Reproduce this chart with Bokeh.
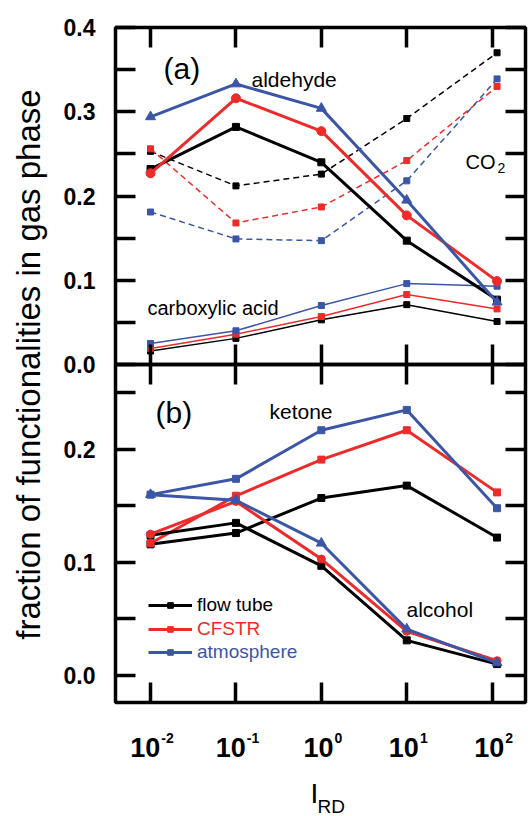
import math
from bokeh.plotting import figure
from bokeh.layouts import row, column
from bokeh.core.properties import value
from bokeh.models import (Range1d, FixedTicker, LinearAxis, LogAxis, Label,
                          Legend, LegendItem, PrintfTickFormatter)
from bokeh.embed import file_html
from bokeh.resources import INLINE

FONT = "Liberation Sans"
BLACK, RED, BLUE = "#000000", "#ee2b2b", "#3c56a6"

# ---------------- data ----------------
i_rd = [0.01, 0.1, 1.0, 10.0, 114.0]
x_ticks = [0.01, 0.1, 1, 10, 100]
x_exponents = ["-2", "-1", "0", "1", "2"]

# panel (a)
ald_ft = [0.232, 0.282, 0.240, 0.147, 0.077]
ald_cf = [0.227, 0.316, 0.277, 0.177, 0.099]
ald_at = [0.294, 0.333, 0.304, 0.195, 0.074]
co2_ft = [0.253, 0.212, 0.226, 0.292, 0.370]
co2_cf = [0.256, 0.168, 0.187, 0.242, 0.330]
co2_at = [0.181, 0.149, 0.147, 0.218, 0.339]
acid_ft = [0.016, 0.031, 0.053, 0.071, 0.051]
acid_cf = [0.019, 0.036, 0.057, 0.083, 0.066]
acid_at = [0.025, 0.040, 0.070, 0.096, 0.093]

# panel (b)
ket_ft = [0.116, 0.126, 0.157, 0.168, 0.122]
ket_cf = [0.117, 0.159, 0.191, 0.217, 0.162]
ket_at = [0.160, 0.174, 0.217, 0.235, 0.148]
alc_ft = [0.124, 0.135, 0.097, 0.031, 0.010]
alc_cf = [0.125, 0.154, 0.103, 0.039, 0.013]
alc_at = [0.160, 0.155, 0.117, 0.041, 0.011]

ya_ticks = [0.0, 0.1, 0.2, 0.3, 0.4]
ya_minor = [0.05, 0.15, 0.25, 0.35]
yb_ticks = [0.0, 0.1, 0.2]
yb_minor = [0.05, 0.15, 0.25]

legend_names = ["flow tube", "CFSTR", "atmosphere"]
legend_colors = [BLACK, RED, BLUE]

X_RANGE = Range1d(10 ** -2.41, 10 ** 2.39)


def style_axis(ax, labels):
    ax.axis_line_color = None
    ax.major_tick_in = 20
    ax.major_tick_out = 0
    ax.minor_tick_in = 20
    ax.minor_tick_out = 0
    ax.major_tick_line_width = 3.5
    ax.minor_tick_line_width = 3.5
    ax.major_tick_line_color = "black"
    ax.minor_tick_line_color = "black"
    if labels:
        ax.major_label_text_font = FONT
        ax.major_label_text_font_style = "bold"
        ax.major_label_text_font_size = "23px"
        ax.major_label_text_color = "black"
        ax.major_label_standoff = 20
    else:
        ax.major_label_text_font_size = "1px"
        ax.major_label_text_color = None
        ax.major_label_standoff = 0


def make_panel(yr, yt, ym, border_top, border_bottom, margin=None):
    kw = {}
    if margin is not None:
        kw["margin"] = margin
    p = figure(frame_width=410, frame_height=yr[2], x_axis_type="log",
               x_range=X_RANGE, y_range=Range1d(yr[0], yr[1]),
               min_border_left=60, min_border_right=3,
               min_border_top=border_top, min_border_bottom=border_bottom,
               toolbar_location=None, output_backend="svg", **kw)
    p.xgrid.visible = False
    p.ygrid.visible = False
    p.outline_line_color = "black"
    p.outline_line_width = 3.5
    p.background_fill_alpha = 0
    p.border_fill_alpha = 0
    p.xaxis[0].ticker = FixedTicker(ticks=x_ticks, minor_ticks=[])
    style_axis(p.xaxis[0], False)
    p.yaxis[0].ticker = FixedTicker(ticks=yt, minor_ticks=ym)
    p.yaxis[0].formatter = PrintfTickFormatter(format="%.1f")
    style_axis(p.yaxis[0], True)
    top = LogAxis(ticker=FixedTicker(ticks=x_ticks, minor_ticks=[]))
    style_axis(top, False)
    p.add_layout(top, "above")
    right = LinearAxis(ticker=FixedTicker(ticks=yt, minor_ticks=ym))
    style_axis(right, False)
    p.add_layout(right, "right")
    return p


def series(p, y, color, width, marker, size, dash="solid"):
    rl = p.line(i_rd, y, line_color=color, line_width=width, line_dash=dash)
    rs = p.scatter(i_rd, y, marker=marker, size=size, fill_color=color,
                   line_color=color)
    return rl, rs


def text(p, s, x, y, size, color="black", align="left", baseline="alphabetic",
         style="normal", angle=0.0):
    p.add_layout(Label(x=x, y=y, x_units="screen", y_units="screen", text=s,
                       text_font=FONT, text_font_size=size, text_color=color,
                       text_align=align, text_baseline=baseline,
                       text_font_style=style, angle=angle))


# ---------------- panel (a) ----------------
p1 = make_panel((0.0, 0.4, 337), ya_ticks, ya_minor, 27, 14)
for y, c in ((co2_ft, BLACK), (co2_cf, RED), (co2_at, BLUE)):
    series(p1, y, c, 1.5, "square", 6, dash="6 4")
for y, c in ((acid_ft, BLACK), (acid_cf, RED), (acid_at, BLUE)):
    series(p1, y, c, 1.5, "square", 6)
series(p1, ald_ft, BLACK, 3, "square", 7)
series(p1, ald_cf, RED, 3, "circle", 9)
series(p1, ald_at, BLUE, 3, "triangle", 10)

text(p1, "(a)", 48, 296, "30px", baseline="middle")
text(p1, "aldehyde", 136, 285, "21px")
text(p1, "CO", 350, 203, "20px")
text(p1, "2", 382, 197, "14px")
text(p1, "carboxylic acid", 32, 57, "20px")

# ---------------- panel (b) ----------------
p2 = make_panel((-0.024, 0.2752, 338), yb_ticks, yb_minor, 10, 10,
                margin=(-24, 0, 0, 0))
leg_r = []
for y, c in ((ket_ft, BLACK), (ket_cf, RED), (ket_at, BLUE)):
    leg_r.append(series(p2, y, c, 3, "square", 7))
series(p2, alc_ft, BLACK, 3, "square", 7)
series(p2, alc_cf, RED, 3, "circle", 8)
series(p2, alc_at, BLUE, 3, "triangle", 10)

text(p2, "(b)", 40, 290, "30px", baseline="middle")
text(p2, "ketone", 154, 291, "21px")
text(p2, "alcohol", 291, 93, "21px")

for k, (name, col, rr) in enumerate(zip(legend_names, legend_colors, leg_r)):
    leg = Legend(items=[LegendItem(label=name, renderers=list(rr))],
                 location=(33, 86 - 23.5 * k), border_line_color=None,
                 background_fill_alpha=0, padding=0, margin=0, spacing=0,
                 glyph_width=44, glyph_height=14, label_height=14,
                 label_standoff=5, label_text_font=FONT,
                 label_text_font_size="19px", label_text_color=col)
    p2.add_layout(leg, "center")

# ---------------- x tick labels and x label strip ----------------
p3 = figure(frame_width=410, frame_height=104, x_axis_type="log",
            x_range=X_RANGE, y_range=Range1d(0, 104),
            min_border_left=60, min_border_right=3, min_border_top=0,
            min_border_bottom=0,
            toolbar_location=None, output_backend="svg")
p3.axis.visible = False
p3.grid.visible = False
p3.outline_line_color = None
p3.background_fill_alpha = 0
p3.border_fill_alpha = 0

sup_w = [(0.333 * e.count("-") + 0.556 * len(e.replace("-", ""))) * 14
         for e in x_exponents]
base_off = [(30 - w) / 2 + 1 for w in sup_w]
p3.text(x=x_ticks, y=[69] * len(x_ticks), text=["10"] * len(x_ticks),
        x_offset=base_off, text_align="right", text_baseline="alphabetic",
        text_font=value(FONT), text_font_style="bold", text_font_size="27px",
        text_color="black")
p3.text(x=x_ticks, y=[79] * len(x_ticks), text=x_exponents,
        x_offset=[o + 1 for o in base_off], text_align="left",
        text_baseline="alphabetic", text_font=value(FONT),
        text_font_style="bold", text_font_size="14px", text_color="black")
text(p3, "I", 195, 23, "28px")
text(p3, "RD", 202, 10, "19px")

# ---------------- y label strip ----------------
lab = figure(width=55, height=816, x_range=Range1d(0, 55),
             y_range=Range1d(0, 816), min_border_left=0, min_border_right=0,
             min_border_top=0, min_border_bottom=0,
             toolbar_location=None, output_backend="svg")
lab.axis.visible = False
lab.grid.visible = False
lab.outline_line_color = None
lab.add_layout(Label(x=28, y=452, text="fraction of functionalities in gas phase",
                     text_font=FONT, text_font_size="33px", text_align="center",
                     text_color="black", text_baseline="middle",
                     angle=math.pi / 2))

layout = row(lab, column(p1, p2, p3))
open("out.html", "w").write(file_html(layout, INLINE))
